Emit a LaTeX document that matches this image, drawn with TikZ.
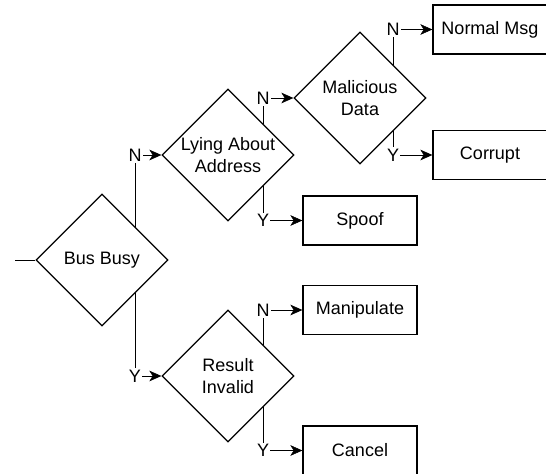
\documentclass[tikz,border=0pt]{standalone}
\usepackage{fontspec}
\setmainfont{Liberation Sans}
\usetikzlibrary{shapes.geometric}
\usetikzlibrary{arrows.meta}
\usetikzlibrary{backgrounds}
\tikzstyle{flow} = [-{Stealth[length=9pt,width=8pt,inset=2.5pt]}]

\begin{document}
\begin{tikzpicture}[x=0.75pt,y=-0.75pt,line width=1pt,
      font=\fontsize{13.5}{16.5}\selectfont,
      decision node/.style={diamond,draw,fill=white,inner sep=0pt,
        minimum width=99pt,minimum height=99pt},
      outcome node/.style={rectangle,draw,fill=white,inner sep=0pt,
        minimum width=85.5pt,minimum height=36.75pt},
      branch label/.style={fill=white,inner sep=1pt}]

  \useasboundingbox (0,0) rectangle (546,474);
  \clip (0,0) rectangle (546,474);

  % decisions
  \node[decision node,label={[align=center]center:Bus Busy}] (bus) at (102,260) {};
  \node[decision node,label={[align=center]center:Lying About\\Address}] (lying) at (228,155) {};
  \node[decision node,label={[align=center]center:Malicious\\Data}] (malicious) at (360,98) {};
  \node[decision node,label={[align=center]center:Result\\Invalid}] (result) at (228,376) {};

  % outcomes
  \node[outcome node] (normal) at (490,29.5) {Normal Msg};
  \node[outcome node] (corrupt) at (490,155) {Corrupt};
  \node[outcome node] (spoof) at (360,220.5) {Spoof};
  \node[outcome node] (manipulate) at (360,310) {Manipulate};
  \node[outcome node] (cancel) at (360,450.5) {Cancel};

  \coordinate (in) at (15,260);
  \coordinate (bus fork) at (135,260);
  \coordinate (lying fork) at (263,155);
  \coordinate (malicious fork) at (393,98);
  \coordinate (result fork) at (263,376);

  \begin{scope}[on background layer]
    \draw (in) -- (bus.west);
    \draw[flow] (bus fork) |- node[branch label] {N} (lying.west);
    \draw[flow] (bus fork) |- node[branch label] {Y} (result.west);
    \draw[flow] (lying fork) |- node[branch label] {N} (malicious.west);
    \draw[flow] (lying fork) |- node[branch label] {Y} (spoof.west);
    \draw[flow] (malicious fork) |- node[branch label] {N} (normal.west);
    \draw[flow] (malicious fork) |- node[branch label] {Y} (corrupt.west);
    \draw[flow] (result fork) |- node[branch label] {N} (manipulate.west);
    \draw[flow] (result fork) |- node[branch label] {Y} (cancel.west);
  \end{scope}
\end{tikzpicture}
\end{document}
